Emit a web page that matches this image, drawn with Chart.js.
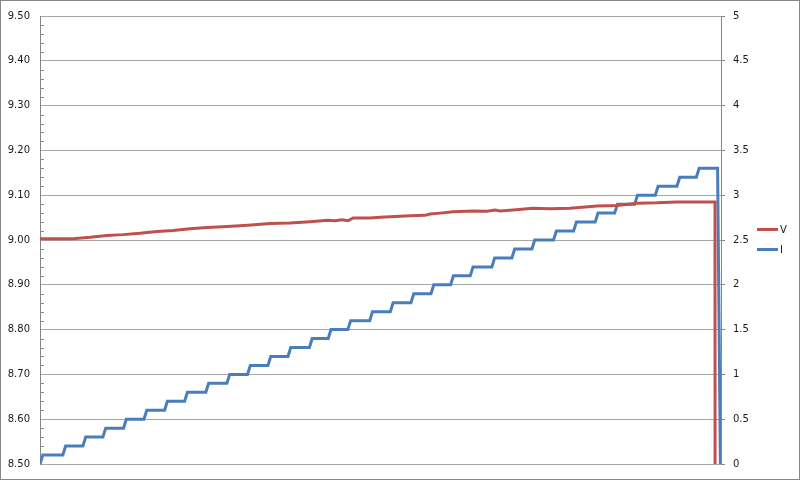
<!DOCTYPE html>
<html>
<head>
<meta charset="utf-8">
<script src="https://cdn.jsdelivr.net/npm/chart.js@4"></script>
<style>
  html, body { margin: 0; padding: 0; background: #fff; }
  #wrap { width: 800px; height: 480px; position: relative; }
</style>
</head>
<body>
<div id="wrap"><canvas id="c" width="800" height="480"></canvas></div>
<script>
// ---- Data (time in seconds, arbitrary origin) ----
// Current (I, right axis): times at which each step happens and the level reached
const stepTimes = [0.7, 12.1, 22.1, 32.1, 42.4, 52.6, 62.9, 72.9, 83.5, 94.0,
  104.3, 114.5, 124.5, 135.2, 144.6, 154.4, 165.3, 175.6, 185.9, 195.9,
  205.7, 215.5, 226.3, 236.3, 246.3, 257.1, 267.1, 277.9, 287.6, 297.6,
  307.9, 318.7, 328.4, 339.0];
const currentLevels = [0.1, 0.2, 0.3, 0.4, 0.5, 0.6, 0.7, 0.8, 0.9, 1.0,
  1.1, 1.2, 1.3, 1.4, 1.5, 1.6, 1.7, 1.8, 1.9, 2.0,
  2.1, 2.2, 2.3, 2.4, 2.5, 2.6, 2.7, 2.8, 2.9, 3.0,
  3.1, 3.2, 3.3, 0];
const currentStart = 0;

// Voltage (V, left axis): sampled readings
const vTimes = [0, 16.5, 25, 33.5, 41.4, 49.9, 58.4, 66.4, 74.9, 83.4,
  93.4, 103.8, 114.8, 124.8, 134.8, 143.8, 147.3, 150.8, 153.8, 156.3,
  164.8, 169.8, 184.7, 192.2, 194.7, 199.7, 206.2, 216.2, 223.2, 227.2,
  229.7, 236.2, 246.1, 254.6, 264.6, 278.1, 288.1, 298.1, 308.0, 318.0,
  328.0, 337.0, 337.6];
const vValues = [9.003, 9.003, 9.006, 9.010, 9.012, 9.015, 9.019, 9.021, 9.025, 9.028,
  9.030, 9.033, 9.037, 9.038, 9.041, 9.044, 9.043, 9.045, 9.043, 9.049,
  9.049, 9.051, 9.054, 9.055, 9.058, 9.060, 9.063, 9.065, 9.064, 9.067,
  9.065, 9.067, 9.071, 9.070, 9.071, 9.076, 9.077, 9.082, 9.083, 9.085,
  9.085, 9.085, 0];

const leftTicks = { min: 8.5, max: 9.5, step: 0.1, minorStep: 0.02 };
const rightTicks = { min: 0, max: 5, step: 0.5 };
const timeRange = { min: 0, max: 340 };

const seriesNames = ['V', 'I'];
const seriesColors = ['#C0504D', '#4A7EBB'];

// ---- Build point tables ----
const halfRise = 0.7;
const iPoints = [{ x: 0, y: currentStart }];
let prev = currentStart;
for (let k = 0; k < stepTimes.length; k++) {
  iPoints.push({ x: Math.max(0, stepTimes[k] - halfRise), y: prev });
  iPoints.push({ x: stepTimes[k] + halfRise, y: currentLevels[k] });
  prev = currentLevels[k];
}
const vPoints = vTimes.map((t, k) => ({ x: t, y: vValues[k] }));

const FONT = { family: 'DejaVu Sans', size: 10 };
const TEXT = '#1a1a1a';
const GRID = '#a6a6a6';
const AXIS = '#868686';

const extras = {
  id: 'extras',
  afterDraw(chart) {
    const ctx = chart.ctx;
    const ys = chart.scales.y;
    const area = chart.chartArea;
    ctx.save();
    // minor ticks inside on the left axis
    ctx.strokeStyle = AXIS;
    ctx.lineWidth = 1;
    const nMinor = Math.round((leftTicks.max - leftTicks.min) / leftTicks.minorStep);
    const per = Math.round(leftTicks.step / leftTicks.minorStep);
    for (let k = 1; k < nMinor; k++) {
      if (k % per === 0) continue;
      const v = leftTicks.min + k * leftTicks.minorStep;
      const y = Math.round(ys.getPixelForValue(v)) + 0.5;
      ctx.beginPath();
      ctx.moveTo(area.left, y);
      ctx.lineTo(area.left + 4, y);
      ctx.stroke();
    }
    // legend
    ctx.font = '10px "DejaVu Sans"';
    ctx.textBaseline = 'middle';
    ctx.textAlign = 'left';
    const legY = [229.5, 249.5];
    chart.data.datasets.forEach((ds, k) => {
      ctx.strokeStyle = ds.borderColor;
      ctx.lineWidth = 3;
      ctx.beginPath();
      ctx.moveTo(757, legY[k]);
      ctx.lineTo(778, legY[k]);
      ctx.stroke();
      ctx.fillStyle = TEXT;
      ctx.fillText(ds.label, 780, legY[k] + 0.5);
    });
    // outer border
    ctx.strokeStyle = AXIS;
    ctx.lineWidth = 1;
    ctx.strokeRect(0.5, 0.5, chart.width - 1, chart.height - 1);
    ctx.restore();
  }
};

new Chart(document.getElementById('c'), {
  type: 'line',
  data: {
    datasets: [
      { label: seriesNames[0], data: vPoints, yAxisID: 'y', borderColor: seriesColors[0],
        backgroundColor: seriesColors[0], borderWidth: 3, pointRadius: 0, tension: 0 },
      { label: seriesNames[1], data: iPoints, yAxisID: 'y1', borderColor: seriesColors[1],
        backgroundColor: seriesColors[1], borderWidth: 3, pointRadius: 0, tension: 0 }
    ]
  },
  options: {
    responsive: false,
    animation: false,
    events: [],
    layout: { padding: { top: 12, bottom: 13, left: 0, right: 0 } },
    plugins: { legend: { display: false }, tooltip: { enabled: false } },
    scales: {
      x: { type: 'linear', min: timeRange.min, max: timeRange.max, display: false },
      y: {
        position: 'left', min: leftTicks.min, max: leftTicks.max,
        afterFit(s) { s.width = 40; },
        ticks: { stepSize: leftTicks.step, font: FONT, color: TEXT, padding: 10,
          callback: v => Number(v).toFixed(2) },
        grid: { color: GRID, lineWidth: 1, drawTicks: false },
        border: { color: AXIS }
      },
      y1: {
        position: 'right', min: rightTicks.min, max: rightTicks.max,
        afterFit(s) { s.width = 79; },
        ticks: { stepSize: rightTicks.step, font: FONT, color: TEXT, padding: 8,
          callback: v => String(Math.round(v * 10) / 10) },
        grid: { drawOnChartArea: false, drawTicks: true, tickLength: 4, color: AXIS },
        border: { color: AXIS }
      }
    }
  },
  plugins: [extras]
});
</script>
</body>
</html>
